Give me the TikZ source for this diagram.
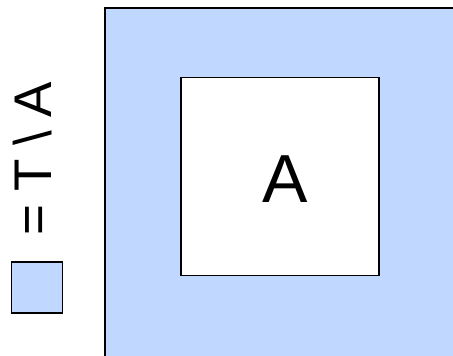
\documentclass[tikz,border=0pt]{standalone}
\usepackage{fontspec}
\setmainfont{Liberation Sans}
\definecolor{setblue}{RGB}{192,215,255}
\begin{document}
\begin{tikzpicture}[x=1pt,y=-1pt,
  region/.style={draw=black,line width=1.6pt,fill=setblue},
  hole/.style={draw=black,line width=1.8pt,fill=white}]
\useasboundingbox (0,0) rectangle (453,356);
% universe T (extends past the right and bottom edges)
\fill[setblue] (105,8) rectangle (460,363);
\draw[black,line width=1.6pt] (105,363) -- (105,8) -- (460,8);
% subset A
\node[hole,minimum width=198pt,minimum height=198pt,inner sep=0pt] (A) at (280,176.5) {};
\node[font=\fontsize{68}{68}\selectfont,anchor=base,inner sep=0pt] (Alab) at (285,202) {A};
% legend
\node[region,minimum width=51pt,minimum height=51pt,inner sep=0pt] (key) at (37,287.5) {};
\node[rotate=90,font=\fontsize{53}{53}\selectfont,anchor=base west,inner sep=0pt] (keytext) at (52,236)
  {\spaceskip=13.5pt =\ T\ \textbackslash\ A};
\end{tikzpicture}
\end{document}
